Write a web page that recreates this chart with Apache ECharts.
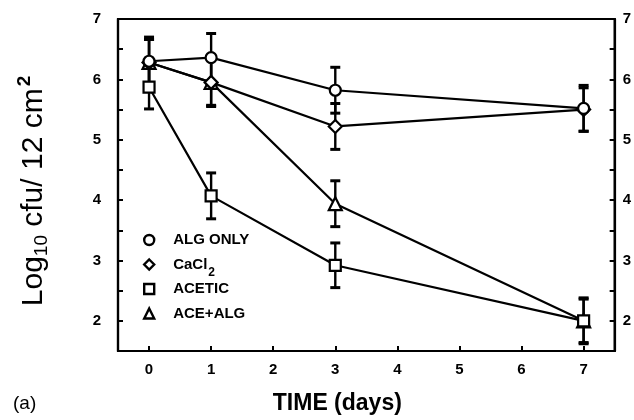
<!DOCTYPE html>
<html>
<head>
<meta charset="utf-8">
<script src="https://cdn.jsdelivr.net/npm/echarts@6/dist/echarts.min.js"></script>
<style>
  html, body { margin: 0; padding: 0; background: #fff; }
  #chart { width: 634px; height: 420px; }
</style>
</head>
<body>
<div id="chart"></div>
<script>
// Survival over storage time (log10 cfu per 12 cm^2), mean ± error
const days = [0, 1, 3, 7];
const algOnly = [6.30, 6.36, 5.82, 5.52];
const algOnlyErr = [0.40, 0.40, 0.38, 0.38];
const cacl2 = [6.28, 5.95, 5.22, 5.50];
const cacl2Err = [0.38, 0.40, 0.38, 0.36];
const acetic = [5.87, 4.07, 2.92, 2.00];
const aceticErr = [0.36, 0.38, 0.37, 0.38];
const aceAlg = [6.28, 5.95, 3.94, 2.00];
const aceAlgErr = [0.38, 0.38, 0.38, 0.36];
const seriesNames = ['ALG ONLY', 'CaCl2', 'ACETIC', 'ACE+ALG'];
const seriesIcons = ['circle', 'diamond', 'rect', 'triangle'];
const xTicks = [0, 1, 2, 3, 4, 5, 6, 7];
const yLabels = [2, 3, 4, 5, 6, 7];
const yTicks = [2, 2.5, 3, 3.5, 4, 4.5, 5, 5.5, 6, 6.5, 7];

const FONT = '"Liberation Sans", Arial, sans-serif';
const pairs = (ys) => days.map((d, i) => [d, ys[i]]);
const triples = (ys, es) => days.map((d, i) => [d, ys[i], es[i]]);

function errorBars(name, ys, es) {
  return {
    type: 'custom',
    name: name + ' err',
    z: 1,
    silent: true,
    data: triples(ys, es),
    renderItem: (params, api) => {
      const x = api.value(0), y = api.value(1), e = api.value(2);
      const hi = api.coord([x, y + e]);
      const lo = api.coord([x, y - e]);
      const cap = 5;
      const capStyle = { stroke: '#000', lineWidth: 3 };
      return {
        type: 'group',
        children: [
          { type: 'line', shape: { x1: hi[0], y1: hi[1], x2: lo[0], y2: lo[1] }, style: { stroke: '#000', lineWidth: 2.4 } },
          { type: 'line', shape: { x1: hi[0] - cap, y1: hi[1], x2: hi[0] + cap, y2: hi[1] }, style: capStyle },
          { type: 'line', shape: { x1: lo[0] - cap, y1: lo[1], x2: lo[0] + cap, y2: lo[1] }, style: capStyle }
        ]
      };
    }
  };
}

function lineSeries(name, ys, symbol, size) {
  return {
    type: 'line',
    name: name,
    z: 3,
    data: pairs(ys),
    symbol: symbol,
    symbolSize: size,
    showAllSymbol: true,
    lineStyle: { color: '#000', width: 2.2 },
    itemStyle: { color: '#fff', borderColor: '#000', borderWidth: 2.2 },
    emphasis: { disabled: true }
  };
}

const markerStyle = { color: '#fff', borderColor: '#000', borderWidth: 2.4 };

// one legend block per row so every row sits on an even pitch
function legendRow(i) {
  return {
    orient: 'vertical',
    left: 143,
    top: 232 + i * 24.5,
    padding: 0,
    itemWidth: 10,
    itemHeight: 10,
    selectedMode: false,
    textStyle: {
      color: '#000', fontFamily: FONT, fontWeight: 'bold', fontSize: 15, lineHeight: 16, padding: [0, 0, 0, 14],
      rich: {
        b: { fontFamily: FONT, fontWeight: 'bold', fontSize: 15, color: '#000', lineHeight: 16 },
        sub: { fontFamily: FONT, fontWeight: 'bold', fontSize: 12, color: '#000', lineHeight: 16, verticalAlign: 'bottom', padding: [0, 0, -6, 1] }
      }
    },
    formatter: (name) => name === 'CaCl2' ? '{b|CaCl}{sub|2}' : name,
    data: [{ name: seriesNames[i], icon: seriesIcons[i], itemStyle: markerStyle }]
  };
}

const yAxisBase = {
  type: 'value',
  min: 1.5,
  max: 7,
  interval: 0.5,
  splitLine: { show: false },
  axisLine: { show: true, onZero: false, lineStyle: { color: '#000', width: 2.2 } },
  axisTick: { show: true, inside: true, length: 5, customValues: yTicks, lineStyle: { color: '#000', width: 2 } },
  axisLabel: { customValues: yLabels, color: '#000', fontFamily: FONT, fontWeight: 'bold', fontSize: 15 }
};

const chart = echarts.init(document.getElementById('chart'), null, { renderer: 'canvas' });
chart.setOption({
  animation: false,
  backgroundColor: '#fff',
  grid: {
    left: 118, right: 19, top: 19, bottom: 67,
    show: true, borderColor: '#000', borderWidth: 2.2, backgroundColor: 'transparent'
  },
  xAxis: {
    type: 'value',
    min: -0.5,
    max: 7.5,
    interval: 0.5,
    splitLine: { show: false },
    axisLine: { show: true, onZero: false, lineStyle: { color: '#000', width: 2.2 } },
    axisTick: { show: true, inside: true, length: 5, customValues: xTicks, lineStyle: { color: '#000', width: 2 } },
    axisLabel: { customValues: xTicks, margin: 11, color: '#000', fontFamily: FONT, fontWeight: 'bold', fontSize: 15 },
    name: 'TIME (days)',
    nameLocation: 'middle',
    nameGap: 41,
    nameTextStyle: { color: '#000', fontFamily: FONT, fontWeight: 'bold', fontSize: 23, padding: [0, 58, 0, 0] }
  },
  yAxis: [
    Object.assign({}, yAxisBase, {
      position: 'left',
      axisLabel: Object.assign({}, yAxisBase.axisLabel, { margin: 17 })
    }),
    Object.assign({}, yAxisBase, {
      position: 'right',
      axisLabel: Object.assign({}, yAxisBase.axisLabel, { margin: 8 })
    })
  ],
  legend: seriesNames.map((n, i) => legendRow(i)),
  graphic: [
    {
      type: 'text',
      x: 34,
      y: 191,
      rotation: Math.PI / 2,
      style: {
        text: '{n|Log}{s|10}{n| cfu/ 12 cm}{p|2}',
        align: 'center',
        verticalAlign: 'middle',
        rich: {
          n: { fontFamily: FONT, fontSize: 30, fill: '#000', lineHeight: 44, verticalAlign: 'middle' },
          s: { fontFamily: FONT, fontSize: 19, fill: '#000', lineHeight: 44, verticalAlign: 'bottom', padding: [0, 0, 5, 0] },
          p: { fontFamily: FONT, fontWeight: 'bold', fontSize: 19, fill: '#000', lineHeight: 44, verticalAlign: 'top', padding: [3, 0, 0, 2] }
        }
      }
    },
    { type: 'text', left: 13, top: 394, style: { text: '(a)', fill: '#000', font: '19px ' + FONT } }
  ],
  series: [
    errorBars(seriesNames[0], algOnly, algOnlyErr),
    errorBars(seriesNames[1], cacl2, cacl2Err),
    errorBars(seriesNames[2], acetic, aceticErr),
    errorBars(seriesNames[3], aceAlg, aceAlgErr),
    lineSeries(seriesNames[3], aceAlg, 'triangle', 13),
    lineSeries(seriesNames[2], acetic, 'rect', 11),
    lineSeries(seriesNames[1], cacl2, 'diamond', 13),
    lineSeries(seriesNames[0], algOnly, 'circle', 11)
  ]
});
</script>
</body>
</html>
